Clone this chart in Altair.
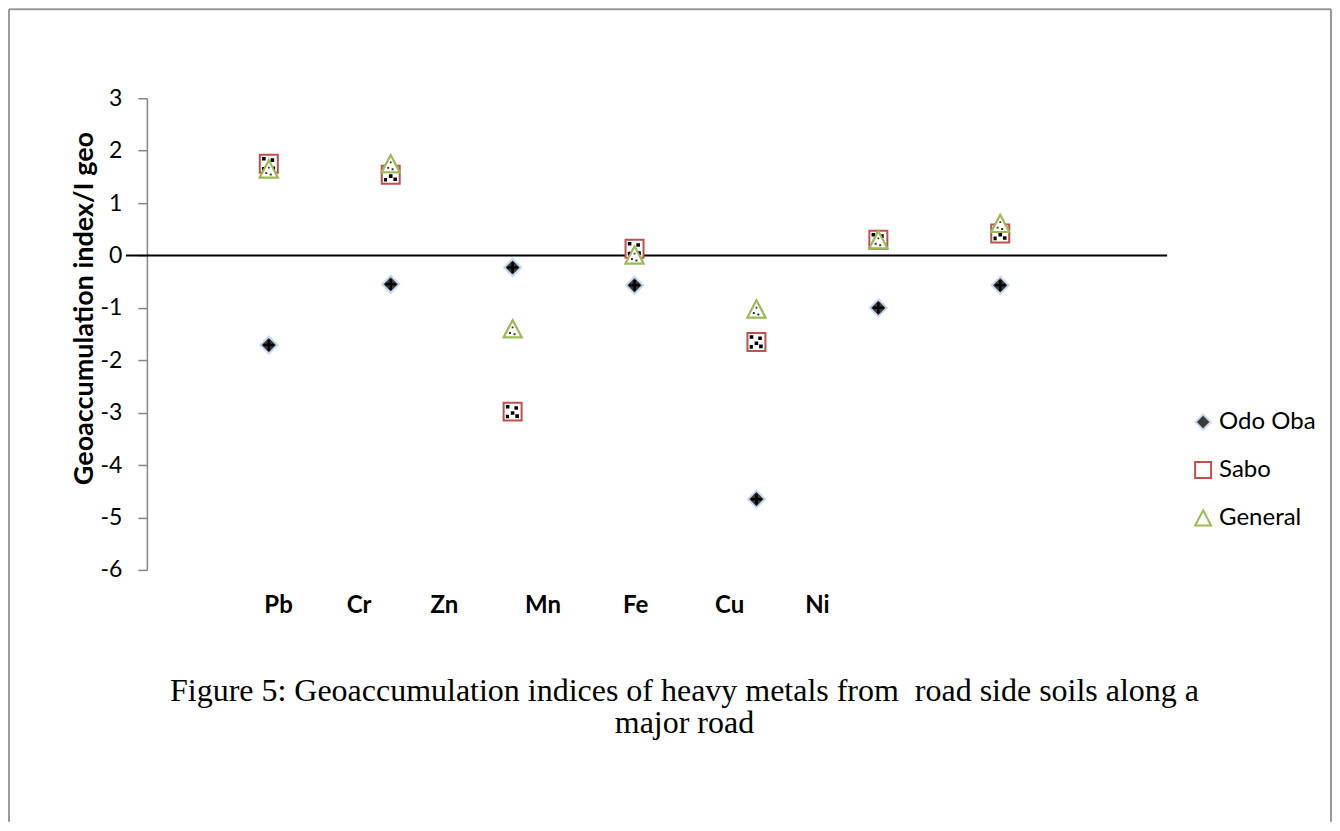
import altair as alt
import pandas as pd

# ---- data ----
sites = ["Odo Oba", "Sabo", "General"]
point_index = [1, 2, 3, 4, 5, 6, 7]
odo_oba = [-1.71, -0.55, -0.23, -0.57, -4.65, -1.00, -0.57]
sabo = [1.75, 1.54, -2.98, 0.13, -1.65, 0.30, 0.42]
general = [1.65, 1.75, -1.40, 0.01, -1.02, 0.30, 0.61]

metals = ["Pb", "Cr", "Zn", "Mn", "Fe", "Cu", "Ni"]
metal_label_pos = [1.08, 1.74, 2.44, 3.25, 4.01, 4.78, 5.50]

caption_lines = [
    "Figure 5: Geoaccumulation indices of heavy metals from \u00a0road side soils along a",
    "major road",
]

rows = []
for site, vals in zip(sites, [odo_oba, sabo, general]):
    for i, v in zip(point_index, vals):
        rows.append({"Site": site, "idx": i, "value": v})
df = pd.DataFrame(rows)
df_labels = pd.DataFrame({"metal": metals, "pos": metal_label_pos})

W, H = 1021, 472
x_scale = alt.Scale(domain=[0, W / 122], nice=False, zero=False)
y_scale = alt.Scale(domain=[-6, 3], nice=False, zero=False)

FONT = "Lato"

DIAMOND = "M0,-0.95L0.95,0L0,0.95L-0.95,0Z"
SQUARE = "square"
TRIANGLE = "M0,-0.95L1,0.95L-1,0.95Z"
SABO_PATTERN = ("M-0.75,-0.75h0.4v0.4h-0.4z M0.2,-0.6h0.4v0.4h-0.4z M-0.2,-0.05h0.4v0.4h-0.4z "
                "M-0.75,0.35h0.35v0.4h-0.35z M0.3,0.3h0.4v0.4h-0.4z")
GENERAL_PATTERN = "M-0.1,-0.25h0.2v0.2h-0.2z M-0.4,0.35h0.22v0.22h-0.22z M0.1,0.5h0.22v0.22h-0.22z"
ODO_PATTERN = "M-0.14,-0.6h0.28v1.2h-0.28z M-0.6,-0.14h1.2v0.28h-1.2z"

SIZE = 324

legend = alt.Legend(
    title=None,
    orient="none",
    legendX=1045,
    legendY=312,
    labelFont=FONT,
    labelFontSize=24,
    labelColor="black",
    symbolSize=256,
    symbolStrokeWidth=2,
    rowPadding=24,
    labelOffset=4,
    padding=0,
)

y_axis = alt.Axis(
    values=[3, 2, 1, 0, -1, -2, -3, -4, -5, -6],
    labelExpr="replace(datum.label, '\u2212', '-')",
    title="Geoaccumulation index/I geo",
    titleFont=FONT,
    titleFontSize=27,
    titleFontWeight="bold",
    titleColor="black",
    titleX=-62,
    titleY=210,
    titleAngle=270,
    titleAlign="center",
    titleBaseline="middle",
    labelFont=FONT,
    labelFontSize=23,
    labelColor="black",
    labelPadding=16,
    tickSize=9,
    tickColor="#868686",
    tickWidth=1.5,
    domainColor="#868686",
    domainWidth=1.5,
    grid=False,
)

points = alt.Chart(df).mark_point(
    filled=False, strokeWidth=2, opacity=1, size=SIZE, fillOpacity=1
).encode(
    x=alt.X("idx:Q", scale=x_scale, axis=None),
    y=alt.Y("value:Q", scale=y_scale, axis=y_axis),
    shape=alt.Shape("Site:N", scale=alt.Scale(domain=sites, range=[DIAMOND, SQUARE, TRIANGLE]),
                    legend=legend),
    fill=alt.Fill("Site:N", scale=alt.Scale(domain=sites, range=["#3a3a3a", "#ffffff", "#ffffff"]),
                  legend=legend),
    stroke=alt.Stroke("Site:N", scale=alt.Scale(domain=sites, range=["#c6d9f1", "#c0504d", "#9bbb59"]),
                      legend=legend),
)


def pattern_layer(site, path, color):
    return alt.Chart(df).transform_filter(alt.datum.Site == site).mark_point(
        filled=True, size=SIZE, opacity=1, strokeWidth=0
    ).encode(
        x=alt.X("idx:Q", scale=x_scale),
        y=alt.Y("value:Q", scale=y_scale),
        shape=alt.value(path),
        color=alt.value(color),
    )


# General triangles redrawn on top of the Sabo squares (as in the reference)
general_top = alt.Chart(df).transform_filter(alt.datum.Site == "General").mark_point(
    filled=False, strokeWidth=2, opacity=1, size=SIZE, fillOpacity=1
).encode(
    x=alt.X("idx:Q", scale=x_scale),
    y=alt.Y("value:Q", scale=y_scale),
    shape=alt.value(TRIANGLE),
    fill=alt.value("#ffffff"),
    stroke=alt.value("#9bbb59"),
)

zero_line = alt.Chart(pd.DataFrame({"v": [0]})).mark_rule(color="black", strokeWidth=2).encode(
    y=alt.Y("v:Q", scale=y_scale),
    x=alt.value(-21),
    x2=alt.value(W),
)

metal_text = alt.Chart(df_labels).mark_text(
    font=FONT, fontSize=24, fontWeight="bold", color="black", baseline="middle", align="center"
).encode(
    x=alt.X("pos:Q", scale=x_scale),
    y=alt.value(508),
    text="metal:N",
)

caption1 = alt.Chart(pd.DataFrame({"t": [caption_lines[0]]})).mark_text(
    font="Liberation Serif", fontSize=32, color="black", align="center", baseline="alphabetic"
).encode(text="t:N", x=alt.value(538), y=alt.value(603))

caption2 = alt.Chart(pd.DataFrame({"t": [caption_lines[1]]})).mark_text(
    font="Liberation Serif", fontSize=32, color="black", align="center", baseline="alphabetic"
).encode(text="t:N", x=alt.value(538), y=alt.value(635))

frame_top = alt.Chart(pd.DataFrame({"a": [0]})).mark_rule(color="#999999", strokeWidth=2).encode(
    x=alt.value(-138), x2=alt.value(1185), y=alt.value(-89)
)
frame_left = alt.Chart(pd.DataFrame({"a": [0]})).mark_rule(color="#999999", strokeWidth=2).encode(
    x=alt.value(-138), y=alt.value(-89), y2=alt.value(724)
)
frame_right = alt.Chart(pd.DataFrame({"a": [0]})).mark_rule(color="#999999", strokeWidth=2).encode(
    x=alt.value(1185), y=alt.value(-89), y2=alt.value(724)
)

chart = alt.layer(
    frame_top, frame_left, frame_right, zero_line,
    points,
    pattern_layer("Odo Oba", ODO_PATTERN, "#000000"),
    pattern_layer("Sabo", SABO_PATTERN, "#000000"),
    general_top,
    pattern_layer("General", GENERAL_PATTERN, "#333333"),
    metal_text, caption1, caption2,
).properties(
    width=W, height=H, padding=0, background="white"
).configure_view(stroke=None)

chart.save("out.html", embed_options={"renderer": "svg", "actions": False})
